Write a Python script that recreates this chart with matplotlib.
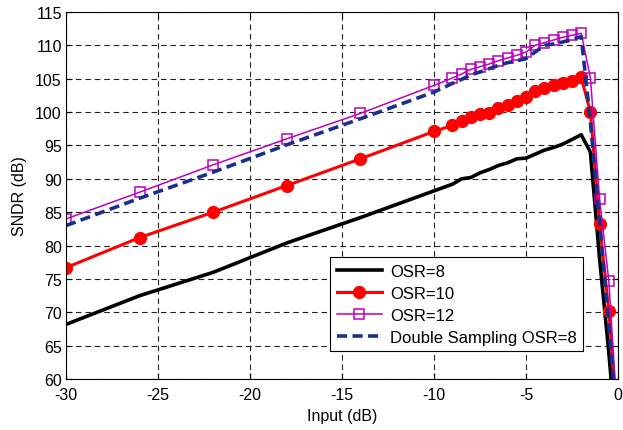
import numpy as np
import matplotlib.pyplot as plt

plt.rcParams['font.family'] = ['Liberation Sans', 'DejaVu Sans']
plt.rcParams['axes.unicode_minus'] = False

# input level (dB)
x = [-30, -26, -22, -18, -14, -10, -9, -8.5, -8, -7.5, -7, -6.5, -6, -5.5,
     -5, -4.5, -4, -3.5, -3, -2.5, -2, -1.5, -1, -0.5, 0]

osr8 = [68.2, 72.5, 76.0, 80.4, 84.2, 88.2, 89.2, 90.0, 90.2, 90.9, 91.4, 92.0,
        92.4, 93.0, 93.1, 93.7, 94.3, 94.7, 95.2, 95.9, 96.6, 94.0, 78.0, 64.0, 48.0]
osr10 = [76.7, 81.2, 85.0, 89.0, 93.0, 97.1, 98.0, 98.6, 99.2, 99.7, 99.9, 100.6,
         101.1, 101.6, 102.2, 103.1, 103.6, 104.0, 104.4, 104.7, 105.2, 100.0, 83.2, 70.2, 52.0]
osr12 = [84.0, 88.0, 92.1, 96.0, 99.8, 104.0, 105.1, 105.7, 106.4, 106.8, 107.2, 107.7,
         108.1, 108.5, 109.0, 110.0, 110.4, 110.8, 111.2, 111.5, 111.8, 105.1, 87.0, 74.7, 53.0]
ds_osr8 = [83.0, 87.1, 91.0, 95.1, 99.0, 103.0, 104.3, 104.9, 105.6, 106.0, 106.5, 107.0,
           107.4, 107.7, 108.0, 109.0, 110.0, 110.2, 110.5, 110.9, 111.3, 98.5, 83.5, 68.0, 52.0]

fig, ax = plt.subplots(figsize=(6.23, 4.31), dpi=100)
fig.subplots_adjust(left=0.106, right=0.992, top=0.970, bottom=0.118)

ax.plot(x, osr8, color='black', lw=2.6, label='OSR=8')
ax.plot(x, osr10, color='red', lw=2.2, marker='o', ms=8.5, label='OSR=10')
ax.plot(x, osr12, color='#bf00bf', lw=1.1, marker='s', ms=6.5, mfc='none',
        mew=1.1, label='OSR=12')
ax.plot(x, ds_osr8, color='#1a2f8c', lw=2.6, dashes=(2.8, 1.5), label='Double Sampling OSR=8')

ax.set_xlim(-30, 0)
ax.set_ylim(60, 115)
ax.set_xticks(np.arange(-30, 1, 5))
ax.set_yticks(np.arange(60, 116, 5))
ax.grid(True, color='#222222', linestyle=(0, (5, 3.5)), linewidth=0.8)
ax.tick_params(direction='in', top=True, right=True, length=4, labelsize=11.5)
ax.tick_params(axis='x', pad=6)
ax.tick_params(axis='y', pad=3)
for s in ax.spines.values():
    s.set_linewidth(0.8)

ax.set_xlabel('Input (dB)', fontsize=11.5, labelpad=4)
ax.set_ylabel('SNDR (dB)', fontsize=11.5, labelpad=6)

leg = ax.legend(loc='lower left', bbox_to_anchor=(0.478, 0.076), borderaxespad=0,
                fontsize=12, handlelength=2.7, handletextpad=0.5, labelspacing=0.42,
                borderpad=0.4, fancybox=False, edgecolor='black', framealpha=1)
leg.get_frame().set_linewidth(0.8)

plt.savefig('out.png', dpi=100)
